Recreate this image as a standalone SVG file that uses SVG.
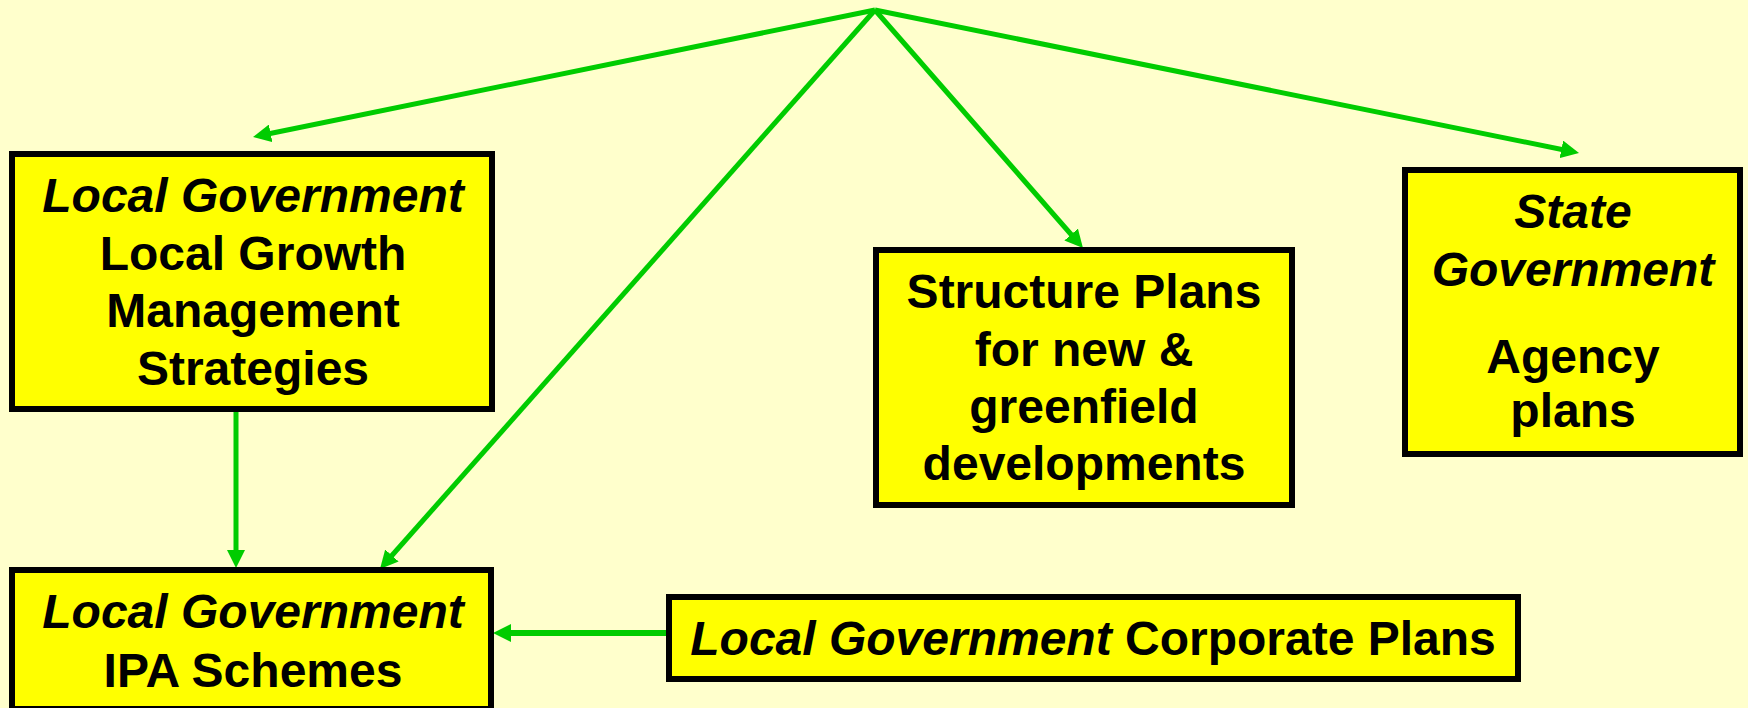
<svg xmlns="http://www.w3.org/2000/svg" width="1748" height="708" viewBox="0 0 1748 708">
<style>
.box{fill:#FFFF00;stroke:#000;stroke-width:6}
.t{font-family:"Liberation Sans",Arial,sans-serif;font-weight:bold;font-size:48px;fill:#000;text-anchor:middle}
.i{font-style:italic}
.c{fill:none;stroke:#00CC00;stroke-width:5;marker-end:url(#ah)}
</style>
<defs>
<marker id="ah" markerUnits="userSpaceOnUse" markerWidth="18" markerHeight="18" refX="8" refY="9" orient="auto">
<path d="M0,0 L18,9 L0,18 z" fill="#00CC00"/>
</marker>
</defs>
<rect width="1748" height="708" fill="#FFFFCC"/>
<g id="connectors">
<line class="c" x1="875" y1="10" x2="262.8" y2="135"/>
<line class="c" x1="875" y1="10" x2="1569.2" y2="151"/>
<line class="c" x1="875" y1="10" x2="1076.4" y2="240.5"/>
<line class="c" x1="875" y1="10" x2="386.6" y2="561.5"/>
<line class="c" x1="236" y1="412" x2="236" y2="558"/>
<line class="c" style="stroke-width:6" x1="668" y1="633" x2="503" y2="633"/>
</g>
<g id="growth">
<rect class="box" x="12" y="154" width="480" height="255"/>
<text class="t i" x="253" y="212">Local Government</text>
<text class="t" x="253" y="270">Local Growth</text>
<text class="t" x="253" y="327">Management</text>
<text class="t" x="253" y="385">Strategies</text>
</g>
<g id="ipa">
<rect class="box" x="12" y="570" width="479" height="139"/>
<text class="t i" x="253" y="628">Local Government</text>
<text class="t" x="253" y="687">IPA Schemes</text>
</g>
<g id="structure">
<rect class="box" x="876" y="250" width="416" height="255"/>
<text class="t" x="1084" y="308">Structure Plans</text>
<text class="t" x="1084" y="366">for new &amp;</text>
<text class="t" x="1084" y="423">greenfield</text>
<text class="t" x="1084" y="480">developments</text>
</g>
<g id="state">
<rect class="box" x="1405" y="170" width="335" height="284"/>
<text class="t i" x="1573" y="228">State</text>
<text class="t i" x="1573" y="286">Government</text>
<text class="t" x="1573" y="373">Agency</text>
<text class="t" x="1573" y="427">plans</text>
</g>
<g id="corporate">
<rect class="box" x="669" y="597" width="849" height="82"/>
<text class="t" x="1093" y="655"><tspan class="i">Local Government</tspan> Corporate Plans</text>
</g>
</svg>
